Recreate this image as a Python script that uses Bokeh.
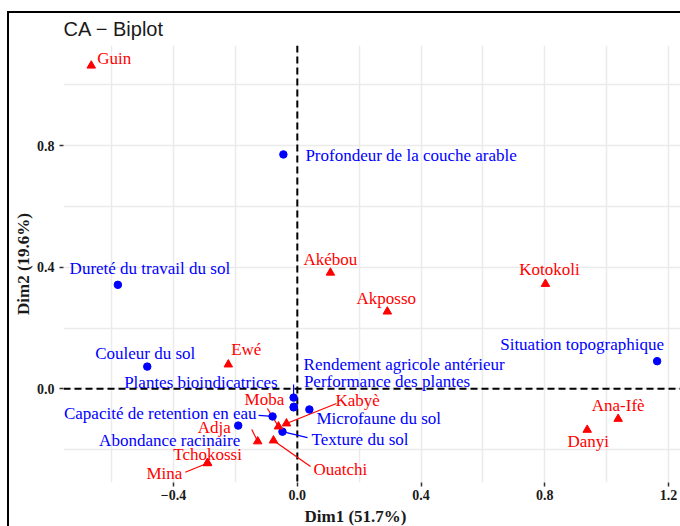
from bokeh.plotting import figure
from bokeh.models import Range1d, FixedTicker, CustomJSTickFormatter, Span, Title
from bokeh.core.properties import value
from bokeh.embed import file_html
from bokeh.resources import INLINE

# Column coordinates: soil descriptors
var_names = ["Profondeur de la couche arable", "Dureté du travail du sol", "Couleur du sol",
             "Situation topographique", "Plantes bioindicatrices", "Rendement agricole antérieur",
             "Performance des plantes", "Capacité de retention en eau", "Microfaune du sol",
             "Texture du sol", "Abondance racinaire"]
var_dim1 = [-0.045, -0.580, -0.485, 1.163, -0.012, -0.012, -0.011, -0.080, 0.039, -0.048, -0.191]
var_dim2 = [0.771, 0.342, 0.073, 0.091, -0.029, -0.061, -0.059, -0.091, -0.068, -0.141, -0.121]

# Row coordinates: ethnic groups
grp_names = ["Guin", "Akébou", "Kotokoli", "Akposso", "Ewé", "Ana-Ifè", "Danyi", "Tchokossi",
             "Mina", "Adja", "Ouatchi", "Moba", "Kabyè"]
grp_dim1 = [-0.666, 0.107, 0.802, 0.291, -0.223, 1.037, 0.937, -0.290, -0.291, -0.128, -0.077, -0.061, -0.035]
grp_dim2 = [1.063, 0.382, 0.345, 0.254, 0.080, -0.099, -0.135, -0.244, -0.245, -0.173, -0.170, -0.124, -0.114]

x_ticks = [-0.4, 0.0, 0.4, 0.8, 1.2]
x_minor = [-0.6, -0.2, 0.2, 0.6, 1.0]
y_ticks = [0.0, 0.4, 0.8]
y_minor = [-0.2, 0.2, 0.6, 1.0]

# Label placement (align, dx px, dy px; dy positive = down) and leader-line starts
var_lab = [("left", 22, 1), ("center", 32, -16), ("center", -2, -13), ("center", -75, -17),
           ("right", -16, -15), ("left", 10, -43), ("left", 10, -25), ("right", -16, -3),
           ("left", 7, 9), ("left", 29, 8), ("right", 2, 15)]
var_lead = [None, None, None, None, (0, -13), None, None, (-14, -1), None, (25, 6), None]
grp_lab = [("left", 6, -7), ("center", 0, -13), ("center", 4, -14), ("center", -1, -13),
           ("center", 18, -15), ("center", 0, -13), ("center", 1, 12), ("center", 0, -8),
           ("right", -25, 10), ("right", -27, -14), ("left", 40, 29), ("center", -14, -27),
           ("left", 49, -23)]
grp_lead = [None, None, None, None, None, None, None, None, (-22, 9), (-6, -12), (37, 26),
            (-11, -18), (50, -20)]

BLUE = "#0000FF"
RED = "#FF0000"
SERIF = "Liberation Serif"

X0, X1 = -0.7557, 1.2385
Y0, Y1 = -0.3082, 1.1293
FW, FH = 617, 437

p = figure(frame_width=FW, frame_height=FH,
           x_range=Range1d(X0, X1), y_range=Range1d(Y0, Y1),
           output_backend="svg", toolbar_location=None,
           min_border_left=54, min_border_right=0, min_border_top=32, min_border_bottom=44,
           background_fill_color="white", border_fill_color="white")
p.outline_line_color = None
p.styles = {"margin-left": "7px", "margin-top": "11px",
            "border-left": "2px solid black", "border-top": "2px solid black"}

p.title.text = "CA \u2212 Biplot"
p.title.text_font = "Liberation Sans"
p.title.text_font_size = "20px"
p.title.text_font_style = "normal"
p.title.text_color = "#1a1a1a"
p.title.align = "left"
p.title.vertical_align = "top"
p.title.standoff = 8

fmt = CustomJSTickFormatter(code="return (tick < 0 ? '\u2212' : '') + Math.abs(tick).toFixed(1);")

for ax, ticks, minor in ((p.xaxis[0], x_ticks, x_minor), (p.yaxis[0], y_ticks, y_minor)):
    ax.ticker = FixedTicker(ticks=ticks, minor_ticks=minor)
    ax.formatter = fmt
    ax.axis_line_color = None
    ax.major_tick_out = 4
    ax.major_tick_in = 0
    ax.major_tick_line_color = "#333333"
    ax.major_tick_line_width = 1.5
    ax.minor_tick_out = 0
    ax.minor_tick_in = 0
    ax.major_label_text_font = SERIF
    ax.major_label_text_font_style = "bold"
    ax.major_label_text_font_size = "14px"
    ax.major_label_text_color = "#1a1a1a"

p.xaxis.major_label_standoff = 3
p.yaxis.major_label_standoff = 5
p.yaxis.axis_label = "Dim2 (19.6%)"
p.yaxis.axis_label_text_font = SERIF
p.yaxis.axis_label_text_font_style = "bold"
p.yaxis.axis_label_text_font_size = "17px"
p.yaxis.axis_label_text_color = "#1a1a1a"
p.yaxis.axis_label_standoff = 1

xlab = Title(text="Dim1 (51.7%)", align="left", offset=241, text_font=SERIF,
             text_font_size="17px", text_font_style="bold", text_color="#1a1a1a", standoff=4)
p.add_layout(xlab, "below")

for g in (p.xgrid[0], p.ygrid[0]):
    g.grid_line_color = "#ebebeb"
    g.grid_line_width = 1.5
    g.minor_grid_line_color = "#ebebeb"
    g.minor_grid_line_width = 1.5

for dim in ("width", "height"):
    p.add_layout(Span(location=0, dimension=dim, line_color="black", line_width=2,
                      line_dash="7 4", level="underlay"))

px_x = FW / (X1 - X0)
px_y = FH / (Y1 - Y0)


def leaders(xs, ys, leads, color):
    x0s, y0s, x1s, y1s = [], [], [], []
    for x, y, ld in zip(xs, ys, leads):
        if ld is None:
            continue
        x0s.append(x + ld[0] / px_x)
        y0s.append(y - ld[1] / px_y)
        x1s.append(x)
        y1s.append(y)
    p.segment(x0s, y0s, x1s, y1s, line_color=color, line_width=1.2)


def labels(xs, ys, names, lab, color):
    for align in ("left", "center", "right"):
        idx = [i for i, l in enumerate(lab) if l[0] == align]
        if not idx:
            continue
        p.text(x=[xs[i] for i in idx], y=[ys[i] for i in idx], text=[names[i] for i in idx],
               x_offset=[lab[i][1] for i in idx], y_offset=[lab[i][2] for i in idx],
               text_align=align, text_baseline="middle", text_color=color,
               text_font=value(SERIF), text_font_size="17px")


leaders(var_dim1, var_dim2, var_lead, BLUE)
leaders(grp_dim1, grp_dim2, grp_lead, RED)

p.scatter(var_dim1, var_dim2, marker="circle", size=7.5, color=BLUE)
p.scatter(grp_dim1, grp_dim2, marker="triangle", size=8.5, color=RED)

labels(var_dim1, var_dim2, var_names, var_lab, BLUE)
labels(grp_dim1, grp_dim2, grp_names, grp_lab, RED)

open("out.html", "w", encoding="utf-8").write(file_html(p, INLINE))
